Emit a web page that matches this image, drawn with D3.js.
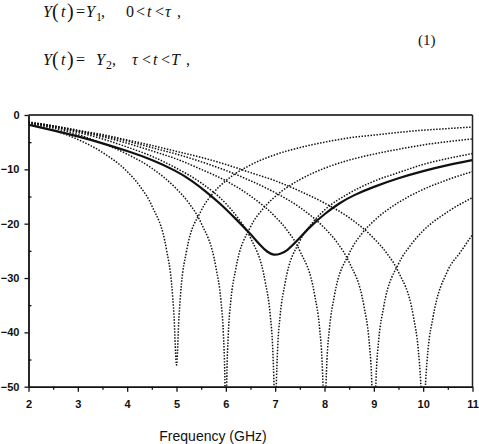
<!DOCTYPE html>
<html>
<head>
<meta charset="utf-8">
<script src="https://cdn.jsdelivr.net/npm/d3@7"></script>
<style>
    body { margin: 0; background: #fff; }
    .tick text { font-family: "Liberation Sans", Arial, sans-serif; font-weight: bold; font-size: 11px; fill: #111; }
    .eq { font-family: "Liberation Serif", "Times New Roman", serif; font-size: 16px; fill: #111; }
</style>
</head>
<body>
<div id="vis"></div>
<script>

// return loss curves (dB) for the single settings, resonance at 5 ... 10 GHz
const curve5 = [[2,-1.7],[2.5,-2.8],[3,-4.5],[3.5,-6.9],[4,-10.4],[4.25,-13.0],[4.5,-16.7],[4.8,-24.9],[4.9,-31.0],[4.95,-37.1],[5,-46],
    [5.05,-37.2],[5.1,-31.1],[5.2,-25.2],[5.5,-17.6],[5.75,-14.3],[6,-12.1],[6.5,-9.2],[7,-7.3],[7.5,-6.0],[8,-5.0],[8.5,-4.2],
    [9,-3.7],[9.5,-3.2],[10,-2.8],[10.5,-2.5],[11,-2.2]];
const curve6 = [[2,-1.5],[2.5,-2.4],[3,-3.6],[3.5,-5.2],[4,-7.2],[4.5,-9.8],[5,-13.6],[5.25,-16.2],[5.5,-19.9],[5.8,-28.1],[5.9,-34.1],
    [5.95,-40.2],[5.98,-48.2],[6,-60],[6.02,-48.2],[6.05,-40.3],[6.1,-34.3],[6.2,-28.4],[6.5,-20.6],[6.75,-17.3],[7,-15.0],
    [7.5,-11.9],[8,-9.8],[8.5,-8.3],[9,-7.2],[9.5,-6.3],[10,-5.5],[10.5,-4.9],[11,-4.4]];
const curve7 = [[2,-1.4],[2.5,-2.2],[3,-3.2],[3.5,-4.4],[4,-5.9],[4.5,-7.6],[5,-9.8],[5.5,-12.5],[6,-16.3],[6.25,-19.0],[6.5,-22.6],
    [6.8,-30.8],[6.9,-36.8],[6.95,-42.9],[6.98,-50.9],[7,-60],[7.02,-50.9],[7.05,-43.0],[7.1,-37.0],[7.2,-31.0],[7.5,-23.2],
    [7.75,-19.9],[8,-17.5],[8.5,-14.4],[9,-12.2],[9.5,-10.6],[10,-9.1],[10.5,-8.0],[11,-7.1]];
const curve8 = [[2,-1.4],[2.5,-2.1],[3,-3.0],[3.5,-4.0],[4,-5.2],[4.5,-6.6],[5,-8.1],[5.5,-10.0],[6,-12.1],[6.5,-14.9],[7,-18.7],
    [7.25,-21.3],[7.5,-25.0],[7.8,-33.1],[7.9,-39.2],[7.95,-45.2],[7.97,-49.7],[8,-60],[8.03,-49.7],[8.05,-45.1],[8.1,-39.3],
    [8.2,-33.3],[8.5,-25.5],[8.75,-21.9],[9,-19.5],[9.5,-16.1],[10,-13.7],[10.5,-11.9],[11,-10.4]];
const curve9 = [[2,-1.3],[2.5,-2.0],[3,-2.9],[3.5,-3.8],[4,-4.8],[4.5,-6.0],[5,-7.2],[5.5,-8.6],[6,-10.2],[6.5,-12.1],[7,-14.3],
    [7.5,-17.0],[8,-20.8],[8.25,-23.4],[8.5,-27.1],[8.8,-35.2],[8.9,-41.2],[8.95,-47.3],[9,-60],[9.05,-47.3],[9.1,-41.3],
    [9.2,-35.3],[9.5,-27.4],[9.75,-23.9],[10,-21.3],[10.5,-17.8],[11,-15.2]];
const curve10 = [[2,-1.3],[2.5,-2.0],[3,-2.8],[3.5,-3.6],[4,-4.6],[4.5,-5.6],[5,-6.7],[5.5,-7.8],[6,-9.1],[6.5,-10.6],[7,-12.1],
    [7.5,-14.0],[8,-16.2],[8.5,-18.9],[9,-22.7],[9.25,-25.3],[9.5,-28.9],[9.8,-37.0],[9.9,-43.1],[9.95,-49.1],[10,-60],
    [10.05,-49.1],[10.1,-43.1],[10.2,-37.2],[10.5,-28.6],[10.75,-25.3],[11,-22.0]];

// switched (time averaged) response
const solidCurve = [[2,-1.8],[2.5,-2.8],[3,-3.9],[3.5,-5.2],[4,-6.6],[4.5,-8.2],[5,-10.3],[5.3,-12.0],[5.6,-14.1],[5.9,-16.4],
    [6.2,-19.1],[6.5,-21.9],[6.7,-24.0],[6.85,-25.3],[6.97,-25.8],[7.1,-25.6],[7.24,-25.0],[7.44,-23.2],[7.7,-20.6],[8,-18.2],
    [8.3,-16.2],[8.6,-14.7],[9,-13.2],[9.5,-11.6],[10,-10.3],[10.5,-9.2],[11,-8.3]];

const xTicks = [2, 3, 4, 5, 6, 7, 8, 9, 10, 11];
const xMinorTicks = [2.5, 3.5, 4.5, 5.5, 6.5, 7.5, 8.5, 9.5, 10.5];
const yTicks = [0, -10, -20, -30, -40, -50];
const yMinorTicks = [-5, -15, -25, -35, -45];

let svg = d3.select('#vis')
    .append('svg')
    .attr('width', 479)
    .attr('height', 444);

// equations above the chart
function eqLine(parts, baseline) {
    let t = svg.append('text').attr('class', 'eq');
    parts.forEach(function(p) {
        t.append('tspan')
            .attr('x', p[0])
            .attr('y', baseline + (p[2] || 0))
            .style('font-style', p[3] || 'italic')
            .style('font-size', p[4] || null)
            .text(p[1]);
    });
}
eqLine([[43,'Y'],[52,'(',1,'normal','20px'],[61,'t'],[67,')',1,'normal','20px'],[76,'=',0,'normal'],[86,'Y'],[96,'1',4,'normal','12px'],
    [101,',',0,'normal'],[126,'0',0,'normal'],[136,'<',0,'normal'],[147,'t'],[155,'<',0,'normal'],[165,'τ'],[177,',',0,'normal']], 17);
eqLine([[43,'Y'],[52,'(',1,'normal','20px'],[61,'t'],[67,')',1,'normal','20px'],[76,'=',0,'normal'],[96,'Y'],[106,'2',4,'normal','12px'],
    [112,',',0,'normal'],[132,'τ'],[142,'<',0,'normal'],[153,'t'],[161,'<',0,'normal'],[171,'T'],[186,',',0,'normal']], 65);
svg.append('text').attr('class', 'eq')
    .attr('x', 418).attr('y', 45)
    .style('font-size', '15px')
    .text('(1)');

// Scaling
let xScale = d3.scaleLinear()
    .domain([2, 11])
    .range([28.5, 472.5]);

let yScale = d3.scaleLinear()
    .domain([-50, 0])
    .range([386.7, 115]);

svg.append('clipPath')
    .attr('id', 'plotClip')
    .append('rect')
    .attr('x', xScale(2))
    .attr('y', yScale(0))
    .attr('width', xScale(11) - xScale(2))
    .attr('height', yScale(-50) - yScale(0));

let line = d3.line()
    .x(function(d) { return xScale(d[0]); })
    .y(function(d) { return yScale(d[1]); })
    .curve(d3.curveMonotoneX);

let smoothLine = d3.line()
    .x(function(d) { return xScale(d[0]); })
    .y(function(d) { return yScale(d[1]); })
    .curve(d3.curveBasis);

let plot = svg.append('g').attr('clip-path', 'url(#plotClip)');

plot.selectAll('path.single')
    .data([curve5, curve6, curve7, curve8, curve9, curve10])
    .enter()
    .append('path')
    .attr('class', 'single')
    .attr('d', line)
    .attr('fill', 'none')
    .attr('stroke', '#111')
    .attr('stroke-width', 1.5)
    .attr('stroke-dasharray', '1.5,1.5');

plot.append('path')
    .datum(solidCurve)
    .attr('d', smoothLine)
    .attr('fill', 'none')
    .attr('stroke', '#111')
    .attr('stroke-width', 2.2);

// frame top and right
svg.append('line')
    .attr('x1', xScale(2)).attr('x2', xScale(11))
    .attr('y1', yScale(0)).attr('y2', yScale(0))
    .attr('stroke', '#444').attr('stroke-width', 2);
svg.append('line')
    .attr('x1', xScale(11)).attr('x2', xScale(11))
    .attr('y1', yScale(0)).attr('y2', yScale(-50))
    .attr('stroke', '#222').attr('stroke-width', 1.5);

// Axis
let xAxis = svg.append('g')
    .attr('transform', 'translate(0,' + yScale(-50) + ')')
    .call(d3.axisBottom(xScale).tickValues(xTicks).tickSize(5).tickSizeOuter(0).tickPadding(9));
svg.append('g')
    .attr('transform', 'translate(0,' + yScale(-50) + ')')
    .call(d3.axisBottom(xScale).tickValues(xMinorTicks).tickSize(3).tickSizeOuter(0).tickFormat(''))
    .select('.domain').remove();

let yAxis = svg.append('g')
    .attr('transform', 'translate(' + xScale(2) + ',0)')
    .call(d3.axisLeft(yScale).tickValues(yTicks).tickSize(4).tickSizeOuter(0).tickPadding(5));
svg.append('g')
    .attr('transform', 'translate(' + xScale(2) + ',0)')
    .call(d3.axisLeft(yScale).tickValues(yMinorTicks).tickSize(-3).tickSizeOuter(0).tickFormat(''))
    .select('.domain').remove();

svg.selectAll('.domain').attr('stroke', '#111').attr('stroke-width', 1.8);
svg.selectAll('.tick line').attr('stroke', '#111').attr('stroke-width', 1.3);

svg.append('text')
    .attr('x', 213)
    .attr('y', 441)
    .attr('text-anchor', 'middle')
    .style('font-family', '"Liberation Sans", Arial, sans-serif')
    .style('font-size', '14px')
    .style('fill', '#111')
    .text('Frequency (GHz)');

</script>
</body>
</html>
